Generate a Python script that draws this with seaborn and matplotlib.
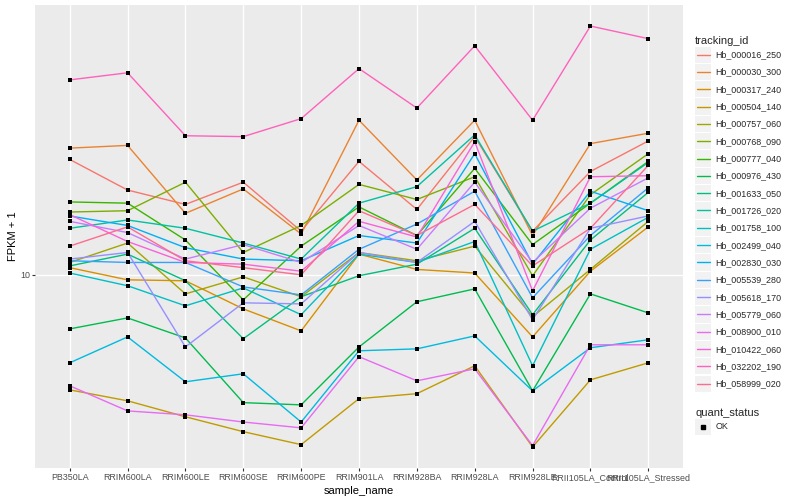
import matplotlib
matplotlib.use("Agg")
import matplotlib.pyplot as plt
from matplotlib.lines import Line2D
from matplotlib.patches import Rectangle
from matplotlib.legend_handler import HandlerLine2D
from matplotlib.ticker import NullLocator
import numpy as np
import pandas as pd
import seaborn as sns

samples = ["PB350LA", "RRIM600LA", "RRIM600LE", "RRIM600SE", "RRIM600PE",
           "RRIM901LA", "RRIM928BA", "RRIM928LA", "RRIM928LE",
           "RRII105LA_Control", "RRII105LA_Stressed"]

tracking_ids = ["Hb_000016_250", "Hb_000030_300", "Hb_000317_240", "Hb_000504_140",
                "Hb_000757_060", "Hb_000768_090", "Hb_000777_040", "Hb_000976_430",
                "Hb_001633_050", "Hb_001726_020", "Hb_001758_100", "Hb_002499_040",
                "Hb_002830_030", "Hb_005539_280", "Hb_005618_170", "Hb_005779_060",
                "Hb_008900_010", "Hb_010422_060", "Hb_032202_190", "Hb_058999_020"]

palette = ["#F8766D", "#EA8331", "#D89000", "#C09B00", "#A3A500", "#7CAE00",
           "#39B600", "#00BB4E", "#00BF7D", "#00C1A3", "#00BFC4", "#00BAE0",
           "#00B0F6", "#35A2FF", "#9590FF", "#C77CFF", "#E76BF3", "#FA62DB",
           "#FF62BC", "#FF6C90"]

# FPKM + 1 per sample (order of `samples`)
hb_000016_250 = [18.8, 15.9, 14.7, 16.6, 12.7, 18.6, 14.3, 21.3, 12.7, 17.6, 20.8]
hb_000030_300 = [20.0, 20.3, 14.0, 16.0, 12.5, 23.3, 16.8, 23.3, 12.4, 20.5, 21.7]
hb_000317_240 = [10.4, 9.73, 9.68, 8.30, 7.36, 11.2, 10.3, 10.1, 7.12, 10.2, 13.0]
hb_000504_140 = [5.33, 5.02, 4.60, 4.24, 3.95, 5.08, 5.22, 6.08, 3.90, 5.63, 6.18]
hb_000757_060 = [10.7, 11.9, 9.01, 9.89, 8.87, 11.3, 10.8, 11.7, 7.95, 10.3, 13.4]
hb_000768_090 = [14.1, 14.2, 16.6, 11.3, 13.1, 16.4, 15.1, 17.1, 9.95, 15.5, 19.4]
hb_000777_040 = [14.9, 14.8, 12.1, 8.72, 11.7, 14.5, 12.4, 17.9, 11.8, 14.8, 18.6]
hb_000976_430 = [7.44, 7.90, 7.08, 4.97, 4.91, 6.74, 8.63, 9.26, 5.30, 9.01, 8.12]
hb_001633_050 = [10.5, 11.2, 9.68, 7.05, 8.87, 9.95, 10.6, 12.9, 8.04, 12.1, 15.7]
hb_001726_020 = [12.9, 13.5, 12.9, 11.9, 10.9, 14.8, 16.2, 21.5, 12.7, 14.8, 18.5]
hb_001758_100 = [10.1, 9.42, 8.44, 9.31, 8.04, 11.2, 10.7, 12.0, 6.08, 11.5, 13.7]
hb_002499_040 = [6.18, 7.12, 5.57, 5.82, 4.47, 6.60, 6.67, 7.16, 5.30, 6.71, 7.01]
hb_002830_030 = [13.8, 13.1, 11.6, 10.9, 10.8, 12.4, 11.9, 19.4, 10.6, 15.8, 14.2]
hb_005539_280 = [10.8, 10.7, 10.7, 9.36, 8.96, 11.5, 13.2, 15.8, 8.82, 12.4, 16.1]
hb_005618_170 = [10.9, 11.3, 6.74, 8.58, 8.53, 11.3, 10.7, 13.4, 7.82, 12.9, 13.8]
hb_005779_060 = [13.4, 12.6, 10.9, 11.8, 10.7, 13.1, 11.5, 16.6, 10.7, 14.4, 17.0]
hb_008900_010 = [5.45, 4.75, 4.65, 4.47, 4.33, 6.39, 5.60, 5.98, 3.93, 6.82, 6.82]
hb_010422_060 = [13.9, 12.0, 10.7, 10.6, 10.2, 13.4, 12.3, 20.7, 9.16, 17.1, 17.2]
hb_032202_190 = [29.05, 30.2, 21.4, 21.3, 23.5, 30.9, 24.9, 35.0, 23.3, 39.0, 36.4]
hb_058999_020 = [11.7, 13.0, 10.8, 10.4, 10.0, 14.2, 12.4, 14.7, 10.5, 12.9, 18.2]

series = [hb_000016_250, hb_000030_300, hb_000317_240, hb_000504_140, hb_000757_060,
          hb_000768_090, hb_000777_040, hb_000976_430, hb_001633_050, hb_001726_020,
          hb_001758_100, hb_002499_040, hb_002830_030, hb_005539_280, hb_005618_170,
          hb_005779_060, hb_008900_010, hb_010422_060, hb_032202_190, hb_058999_020]

rows = []
for tid, vals in zip(tracking_ids, series):
    for i, (s, v) in enumerate(zip(samples, vals)):
        rows.append({"tracking_id": tid, "sample_name": s, "pos": i, "fpkm": v,
                     "quant_status": "OK"})
df = pd.DataFrame(rows)

sns.set_theme(style="darkgrid", rc={
    "axes.facecolor": "#EBEBEB", "grid.color": "white", "grid.linewidth": 1.0,
    "axes.edgecolor": "#EBEBEB", "figure.facecolor": "white"})
plt.rcParams["font.family"] = ["Liberation Sans", "DejaVu Sans"]

fig = plt.figure(figsize=(8, 5), dpi=100)
ax = fig.add_axes([35 / 800, 1 - 468 / 500, 648 / 800, 463 / 500])

sns.lineplot(data=df, x="pos", y="fpkm", hue="tracking_id", hue_order=tracking_ids,
             palette=palette, estimator=None, sort=False, lw=1.0, legend=False, ax=ax)
sns.scatterplot(data=df, x="pos", y="fpkm", color="black", marker="s", s=9,
                linewidth=0, legend=False, ax=ax, zorder=3)

ax.set_yscale("log")
lo, hi = np.log10(min(min(s) for s in series)), np.log10(max(max(s) for s in series))
pad = 0.05 * (hi - lo)
ax.set_ylim(10 ** (lo - pad), 10 ** (hi + pad))
ax.set_yticks([10])
ax.set_yticklabels(["10"])
ax.yaxis.set_minor_locator(NullLocator())
ax.set_xlim(-0.6, len(samples) - 0.4)
ax.set_xticks(range(len(samples)))
ax.set_xticklabels(samples)
ax.grid(True, which="major", color="white", lw=1.0)
for sp in ax.spines.values():
    sp.set_visible(False)
ax.tick_params(axis="both", which="major", length=2.2, width=0.8, color="#333333",
               labelsize=6.4, labelcolor="#4D4D4D", pad=1.5, bottom=True, left=True)
ax.set_xlabel("sample_name", fontsize=8, color="black", labelpad=3)
ax.set_ylabel("FPKM + 1", fontsize=8, color="black", labelpad=1)


class KeyHandler(HandlerLine2D):
    def create_artists(self, legend, orig_handle, xdescent, ydescent, width, height,
                       fontsize, trans):
        rect = Rectangle((-xdescent, -ydescent + 0.03 * height), width, height * 0.94,
                         facecolor="#F2F2F2", edgecolor="none", transform=trans)
        yc = -ydescent + height / 2
        if orig_handle.get_linestyle() in ("None", "none", ""):
            art = Line2D([-xdescent + width / 2], [yc], marker="s", markersize=2.6,
                         color="black", linestyle="none", transform=trans)
        else:
            art = Line2D([-xdescent + 0.1 * width, -xdescent + 0.9 * width], [yc, yc],
                         color=orig_handle.get_color(), lw=1.0, transform=trans)
        return [rect, art]


legend_kw = dict(loc="upper left", frameon=False, fontsize=6.4, title_fontsize=8,
                 handlelength=1.85, handleheight=2.62, labelspacing=0.0,
                 handletextpad=0.45, borderpad=0, borderaxespad=0, alignment="left",
                 handler_map={Line2D: KeyHandler()})

handles = [Line2D([], [], color=c, lw=1.0) for c in palette]
leg1 = fig.legend(handles, tracking_ids, title="tracking_id",
                  bbox_to_anchor=(695 / 800, 1 - 36 / 500), **legend_kw)

ok_handle = [Line2D([], [], marker="s", color="black", linestyle="none")]
leg2 = fig.legend(ok_handle, ["OK"], title="quant_status",
                  bbox_to_anchor=(695 / 800, 1 - 408 / 500), **legend_kw)

fig.savefig("out.png", dpi=100)
